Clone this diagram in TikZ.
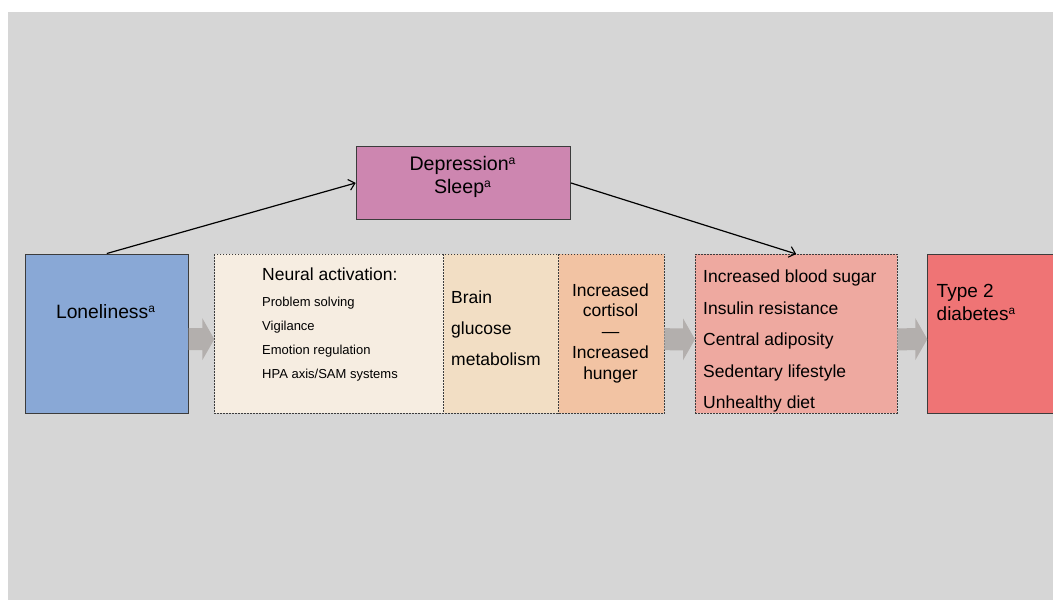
\documentclass[tikz,border=0pt]{standalone}
\usepackage{fontspec}
\usepackage{graphicx}
\setmainfont{Liberation Sans}
\usetikzlibrary{arrows.meta,calc}
\definecolor{bgc}{HTML}{D6D6D6}
\definecolor{lonc}{HTML}{89A8D6}
\definecolor{neuc}{HTML}{F6EDE1}
\definecolor{brac}{HTML}{F2DEC4}
\definecolor{corc}{HTML}{F2C3A3}
\definecolor{bloc}{HTML}{EEA9A0}
\definecolor{typc}{HTML}{EF7475}
\definecolor{depc}{HTML}{CD86B0}
\definecolor{arrc}{HTML}{B3AFAD}
\definecolor{edgec}{HTML}{3C3C3C}
\newcommand\supa{\raisebox{0.3em}{\scalebox{0.62}{a}}}
\newcommand\blockarrow[2]{%
  \fill[arrc] ($(#1.east)+(0,-5.5)$) -- ($(#2.west)+(-12,-5.5)$) -- ($(#2.west)+(-12,-15.5)$)
    -- ($(#2.west)+(0,5.5)$) -- ($(#2.west)+(-12,26.5)$) -- ($(#2.west)+(-12,16.5)$)
    -- ($(#1.east)+(0,16.5)$) -- cycle;}
\tikzset{
  solidbox/.style={draw=edgec, line width=0.9pt, inner sep=0pt, anchor=north west},
  fillbox/.style={inner sep=0pt, anchor=north west},
  dashline/.style={draw=edgec, line width=0.7pt, dash pattern=on 1.8pt off 1.2pt},
  dashbox/.style={fillbox, dashline},
  conn/.style={draw=black, line width=1.2pt, -{Straight Barb[length=6pt,width=11pt,line width=1.1pt]}},
  txt/.style={inner sep=0pt, anchor=base west, font=\fontsize{17.5}{21}\selectfont},
  small/.style={inner sep=0pt, anchor=base west, font=\fontsize{13}{15}\selectfont},
  big/.style={inner sep=0pt, anchor=base, font=\fontsize{19.3}{23}\selectfont},
}
\begin{document}
\begin{tikzpicture}[x=1pt,y=-1pt]
\useasboundingbox (0,0) rectangle (1053,600);
\clip (0,0) rectangle (1053,600);
\fill[bgc] (8,12) rectangle (1060,610);
% boxes
\node[solidbox, fill=lonc, minimum width=162.7pt, minimum height=159.4pt] (lon) at (25,253.5) {};
\node[fillbox, fill=neuc, minimum width=229pt, minimum height=159pt] (neu) at (214.3,254) {};
\node[fillbox, fill=brac, minimum width=115pt, minimum height=159pt] (bra) at (443.3,254) {};
\node[fillbox, fill=corc, minimum width=105.7pt, minimum height=159pt] (cor) at (558.3,254) {};
\draw[dashline] (neu.north west) rectangle (cor.south east);
\draw[dashline] (neu.north east) -- (neu.south east);
\draw[dashline] (bra.north east) -- (bra.south east);
\node[dashbox, fill=bloc, minimum width=201.7pt, minimum height=159pt] (blo) at (695,254) {};
\node[solidbox, fill=typc, minimum width=180pt, minimum height=159.4pt] (typ) at (927.3,253.5) {};
\node[solidbox, fill=depc, minimum width=214.3pt, minimum height=73pt] (dep) at (355.7,146) {};
% grey block arrows
\blockarrow{lon}{neu}
\blockarrow{cor}{blo}
\blockarrow{blo}{typ}
% black connectors
\draw[conn] (lon.north) -- (dep.west);
\draw[conn] (dep.east) -- (blo.north);
% texts
\node[big] (lontxt) at (105.5,318.5) {Loneliness\supa};
\node[big, font=\fontsize{19.6}{23}\selectfont] (dep1) at (462.5,170) {Depression\supa};
\node[big, font=\fontsize{19.6}{23}\selectfont] (dep2) at (462.5,193.3) {Sleep\supa};
\node[txt] (neu0) at (262,280.5) {Neural activation:};
\node[small] (neu1) at (262,306.5) {Problem solving};
\node[small] (neu2) at (262,330.5) {Vigilance};
\node[small] (neu3) at (262,354.5) {Emotion regulation};
\node[small] (neu4) at (262,378.5) {HPA axis/SAM systems};
\node[txt] (bra1) at (451,303.3) {Brain};
\node[txt] (bra2) at (451,334) {glucose};
\node[txt] (bra3) at (451,365) {metabolism};
\node[txt, anchor=base] (cor1) at (610.5,296) {Increased};
\node[txt, anchor=base] (cor2) at (610.5,316.75) {cortisol};
\node[txt, anchor=base] (cor3) at (610.5,337.5) {—};
\node[txt, anchor=base] (cor4) at (610.5,358.25) {Increased};
\node[txt, anchor=base] (cor5) at (610.5,379) {hunger};
\node[txt] (blo1) at (703,282.5) {Increased blood sugar};
\node[txt] (blo2) at (703,314) {Insulin resistance};
\node[txt] (blo3) at (703,345.5) {Central adiposity};
\node[txt] (blo4) at (703,377) {Sedentary lifestyle};
\node[txt] (blo5) at (703,408.5) {Unhealthy diet};
\node[txt, font=\fontsize{19}{23}\selectfont] (typ1) at (936.5,297.7) {Type 2};
\node[txt, font=\fontsize{19}{23}\selectfont] (typ2) at (936.5,320) {diabetes\supa};
\end{tikzpicture}
\end{document}
